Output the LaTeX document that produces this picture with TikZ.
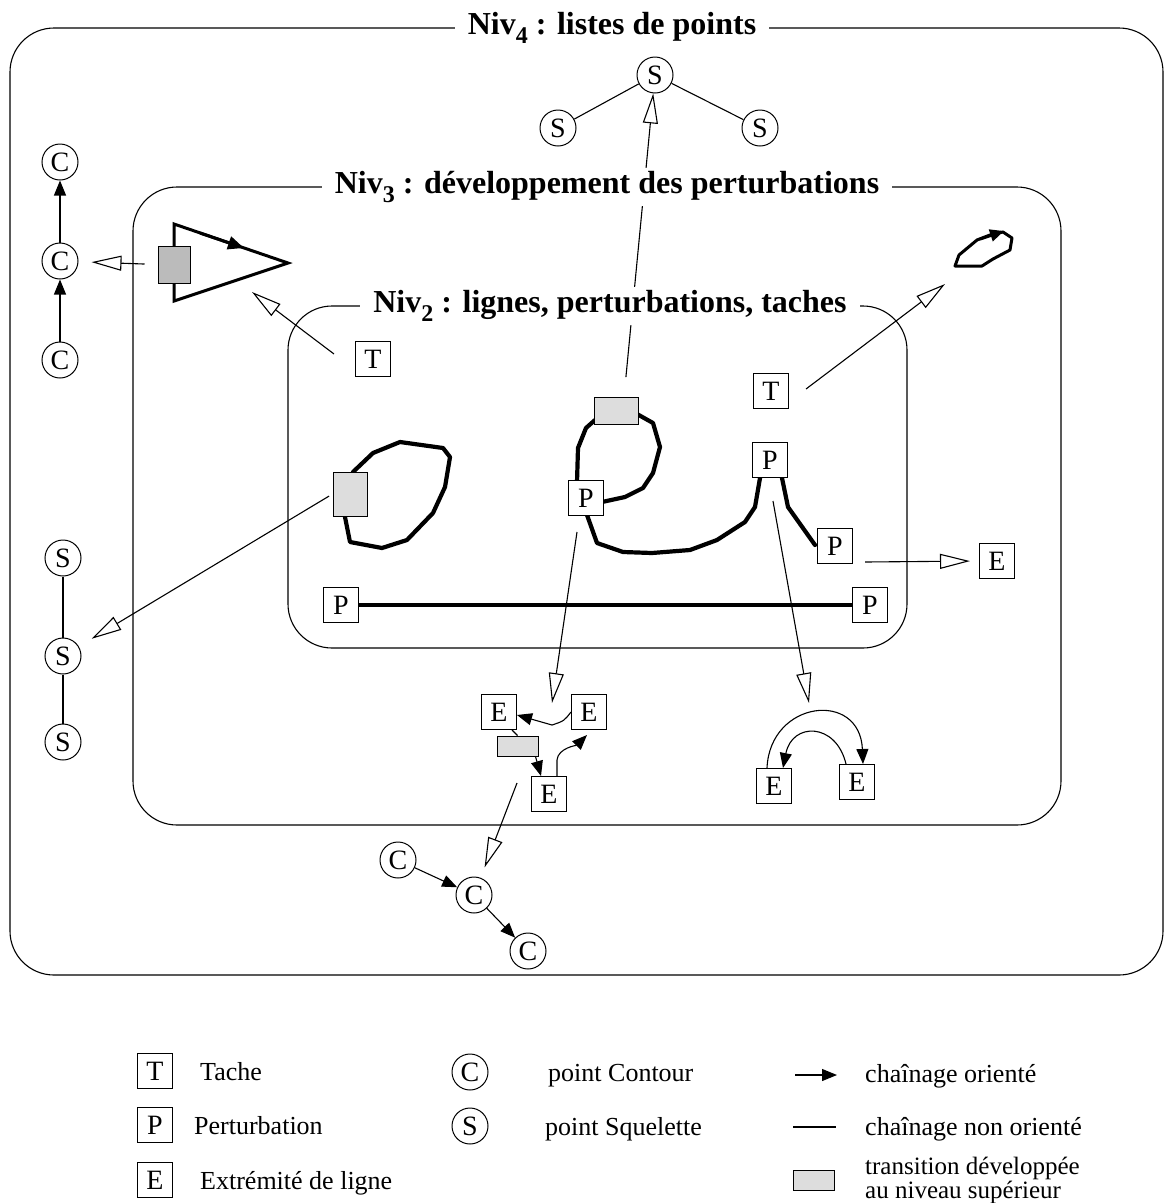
\documentclass[tikz,border=0pt]{standalone}
\usepackage{fontspec}
\setmainfont{Liberation Serif}
\usetikzlibrary{arrows.meta,calc}
\definecolor{transgray}{HTML}{DDDDDD}
\definecolor{midgray}{HTML}{BBBBBB}
\newcommand\nivsub[1]{\raisebox{-0.28em}{\fontsize{24}{24}\selectfont\bfseries #1}}
\begin{document}
\begin{tikzpicture}[x=1pt,y=-1pt,
  box/.style={draw,line width=1pt,minimum size=35pt,inner sep=0pt,fill=white,font=\fontsize{28}{28}\selectfont},
  pnt/.style={draw,circle,line width=1pt,minimum size=36pt,inner sep=0pt,fill=white,font=\fontsize{28}{28}\selectfont},
  fine/.style={line width=1.1pt},
  heavy/.style={line width=4.2pt,line join=round,line cap=round},
  dev/.style={-{Triangle[open,length=30pt,width=15pt]},line width=1.1pt},
  chain/.style={-{Triangle[length=15pt,width=12pt]},line width=1.1pt},
  trans/.style={draw,line width=1pt,fill=transgray,inner sep=0pt},
  nivbox/.style={rounded corners=44pt,line width=1.1pt},
  lvltitle/.style={fill=white,inner xsep=13pt,inner ysep=3pt,font=\fontsize{32}{32}\selectfont\bfseries},
  legtext/.style={anchor=base west,font=\fontsize{26}{26}\selectfont,inner sep=0pt}]
\useasboundingbox (0,0) rectangle (1165,1203);

% ---------- level frames ----------
\draw[nivbox] (10,28) rectangle (1163,975);
\draw[nivbox] (133,187) rectangle (1061,825);
\draw[nivbox] (288,306) rectangle (907,648);

% ---------- shapes (thick chains) ----------
% triangle contour
\draw[line width=3pt,line join=miter] (174,301) -- (174,224) -- (288,263) -- cycle;
\draw[-{Triangle[length=16pt,width=13pt]},line width=3pt] (200,233) -- (244,248);
% small spot contour
\draw[line width=3pt,line join=round] (955,266) -- (959,255) -- (977,240) -- (990,235) -- (1003,232)
  -- (1012,238) -- (1010,250) -- (993,259) -- (982,266) -- cycle;
\draw[-{Triangle[length=14pt,width=12pt]},line width=3pt] (980,239) -- (1004,231);
% left loop
\draw[heavy] (353,472) -- (373,453) -- (400,442) -- (443,448) -- (450,457) -- (445,487)
  -- (433,513) -- (407,540) -- (382,548) -- (350,542) -- (345,517);
% middle loop and lines
\draw[heavy] (595,420) -- (586,428) -- (578,448) -- (577,482);
\draw[heavy] (602,502) -- (625,497) -- (643,488) -- (653,473) -- (660,447) -- (653,423) -- (637,414);
\draw[heavy] (587,515) -- (597,543) -- (623,552) -- (652,553) -- (690,550) -- (717,540)
  -- (745,522) -- (755,507) -- (760,478);
\draw[heavy] (782,478) -- (788,507) -- (815,545);

% ---------- Niv4 nodes ----------
\node[pnt] (s0) at (655,75) {S};
\node[pnt] (sl) at (558,128) {S};
\node[pnt] (sr) at (760,128) {S};
\draw[fine] (s0) -- (sl);
\draw[fine] (s0) -- (sr);

\node[pnt] (c1) at (60,162) {C};
\node[pnt] (c2) at (60,261) {C};
\node[pnt] (c3) at (60,360) {C};
\draw[chain] (c3) -- (c2);
\draw[chain] (c2) -- (c1);

\node[pnt] (s1) at (63,558) {S};
\node[pnt] (s2) at (63,656) {S};
\node[pnt] (s3) at (63,742) {S};
\draw[fine] (s1) -- (s2);
\draw[fine] (s2) -- (s3);

\node[pnt] (cl) at (398,860) {C};
\node[pnt] (cm) at (474,895) {C};
\node[pnt] (cb) at (528,951) {C};
\draw[chain] (cl) -- (cm);
\draw[chain] (cm) -- (cb);

% ---------- Niv3 / Niv2 nodes ----------
\node[trans,fill=midgray,minimum width=32pt,minimum height=37pt] (g1) at (174,264.5) {};
\node[trans,minimum width=34pt,minimum height=44pt] (g3) at (350,494) {};
\node[trans,minimum width=44pt,minimum height=27pt] (g2) at (616,411) {};

\node[box] (t1) at (373,359) {T};
\node[box] (t5) at (771,391) {T};
\node[box] (p2) at (586,498) {P};
\node[box] (p3) at (770,460) {P};
\node[box] (p4) at (835,546) {P};
\node[box] (p1) at (341,605) {P};
\node[box] (p6) at (870,605) {P};
\node[box] (e0) at (997,561) {E};
\draw[heavy,line cap=butt] (p1) -- (p6);

% E cluster
\node[box] (e1) at (499,712) {E};
\node[box] (e2) at (589,712) {E};
\node[trans,minimum width=41pt,minimum height=20pt] (g4) at (517.5,746) {};
\node[box] (e3) at (549,794) {E};
\draw[chain] (e2.west) .. controls (564,721) .. (552,725) -- ($(e1.east)+(0,3)$);
\draw[fine] ($(e1.south east)+(-5,0)$) -- (g4.north);
\draw[chain] ($(g4.south east)+(-3,0)$) -- ($(e3.north west)+(10,0)$);
\draw[chain] ($(e3.north)+(8,0)$) -- (557,760) .. controls (558,748) and (577,745) .. ($(e2.south)+(-2,5)$);

% E pair
\node[box] (e4) at (774,786) {E};
\node[box] (e5) at (857,782) {E};
\draw[chain] ([xshift=-7pt]e4.north) .. controls (770,700) and (860,690) .. ([xshift=6pt]e5.north);
\draw[chain] ([xshift=-11pt]e5.north) .. controls (836,722) and (792,722) .. ([xshift=9pt]e4.north);

% ---------- development arrows ----------
\coordinate (tritip) at (252,292);
\coordinate (spottip) at (945,284);
\coordinate (clustertip) at (552,703);
\coordinate (pairtip) at (809,703);
\draw[dev,shorten <=13pt,shorten >=13pt] (g1.west) -- (c2);
\draw[dev] ($(t1.west)+(-21,-5)$) -- (tritip);
\draw[dev,shorten <=20pt] ($(g2.north)+(8,0)$) -- (s0);
\draw[dev] ($(t5.east)+(17,-2)$) -- (spottip);
\draw[dev,shorten <=4pt,shorten >=15pt] (g3.west) -- (s2);
\draw[dev,shorten >=9pt] ($(p4.south east)+(12,-2)$) -- (e0.west);
\draw[dev] ($(p2.south)+(-9,16)$) -- (clustertip);
\draw[dev] ($(p3.south)+(3,23)$) -- (pairtip);
\draw[dev,shorten >=11pt] ($(e3.west)+(-14,-11)$) -- (cm);

% ---------- level titles (over frames and arrows) ----------
\node[lvltitle] (t4) at (612,28) {Niv\nivsub{4} : listes de points};
\node[lvltitle] (t3) at (607,187) {Niv\nivsub{3} : développement des perturbations};
\node[lvltitle] (t2) at (610,306) {Niv\nivsub{2} : lignes, perturbations, taches};

% ---------- legend ----------
\node[box] (lt) at (155,1071) {T};
\node[legtext] at (200,1080) {Tache};
\node[box] (lp) at (155,1125) {P};
\node[legtext] at (194,1134) {Perturbation};
\node[box] (le) at (155,1180) {E};
\node[legtext] at (200,1189) {Extrémité de ligne};

\node[pnt] (lc) at (470,1072) {C};
\node[legtext] at (548,1081) {point Contour};
\node[pnt] (ls) at (470,1126) {S};
\node[legtext] at (545,1135) {point Squelette};

\coordinate (la1) at (795,1075);
\coordinate (la2) at (837,1075);
\draw[chain] (la1) -- (la2);
\node[legtext] at (865,1082) {chaînage orienté};
\coordinate (lb1) at (793,1127);
\coordinate (lb2) at (836,1127);
\draw[fine] (lb1) -- (lb2);
\node[legtext] at (865,1135) {chaînage non orienté};
\node[trans,minimum width=41pt,minimum height=20pt] (lg) at (813.5,1180) {};
\node[legtext,font=\fontsize{25}{25}\selectfont] at (865,1174) {transition développée};
\node[legtext,font=\fontsize{25}{25}\selectfont] at (865,1198) {au niveau supérieur};
\end{tikzpicture}
\end{document}
